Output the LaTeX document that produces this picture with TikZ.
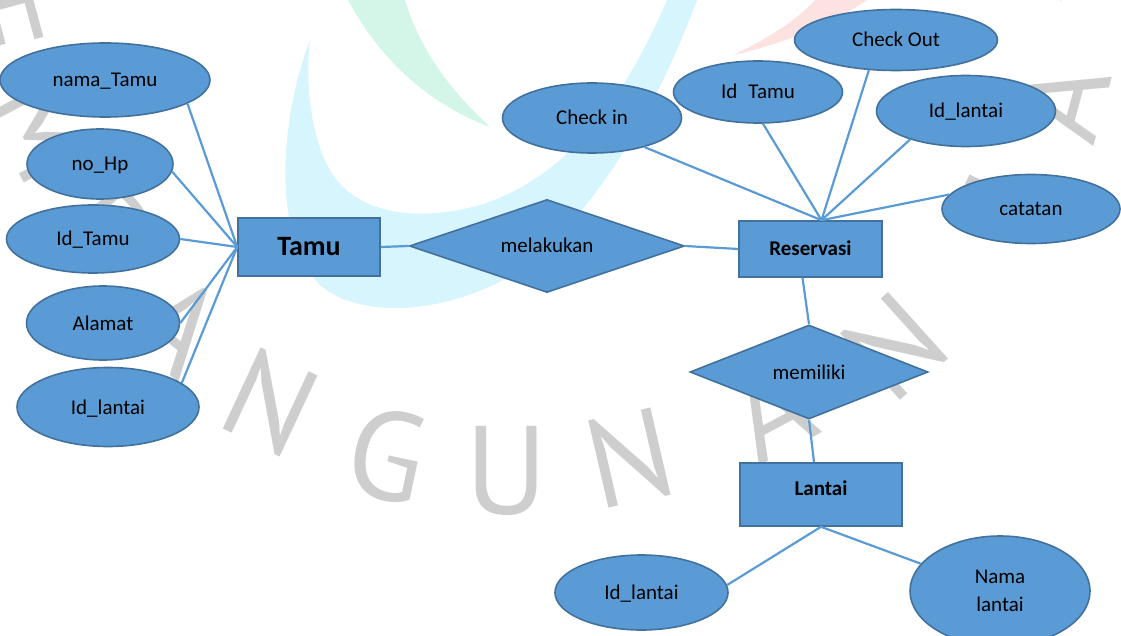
\documentclass[tikz,border=0pt]{standalone}
\usepackage{fontspec}
\setmainfont{Carlito}
\newfontfamily\wmfont{PT Sans}
\usetikzlibrary{shapes.geometric}
\definecolor{erfill}{HTML}{5B9BD5}
\definecolor{erdraw}{HTML}{41719C}
\definecolor{erline}{HTML}{5B9BD5}
\definecolor{wmcyan}{RGB}{214,245,252}
\definecolor{wmgreen}{RGB}{212,246,233}
\definecolor{wmpink}{RGB}{253,226,226}
\definecolor{wmgray}{RGB}{206,206,206}

\begin{document}
\begin{tikzpicture}[x=1pt,y=-1pt,
  every node/.style={inner sep=0pt},
  attrbase/.style={ellipse, draw=erdraw, fill=erfill, line width=1.6pt,
    font=\fontsize{21}{28}\selectfont},
  attr/.style={attrbase, text height=14pt, text depth=0pt},
  entity/.style={rectangle, draw=erdraw, fill=erfill, line width=1.6pt,
    font=\fontsize{21}{25}\selectfont\bfseries, text height=14pt, text depth=0pt},
  relation/.style={diamond, aspect=3, draw=erdraw, fill=erfill, line width=1.6pt,
    font=\fontsize{21}{25}\selectfont, text height=14pt, text depth=0pt},
  link/.style={draw=erline, line width=2.2pt},
  wm/.style={font=\wmfont\fontsize{126}{126}\selectfont, text=wmgray}
]
\useasboundingbox (0,0) rectangle (1121,636);

% background logo swooshes
\fill[wmcyan] (310,40) .. controls (283,110) and (268,230) .. (320,285)
  .. controls (360,320) and (450,315) .. (520,270)
  .. controls (600,210) and (660,100) .. (697,0) -- (667,0)
  .. controls (620,110) and (560,180) .. (480,205)
  .. controls (420,222) and (360,215) .. (333,175)
  .. controls (310,140) and (305,80) .. (310,40) -- cycle;
\fill[wmgreen] (348,0) .. controls (380,60) and (430,105) .. (490,127)
  .. controls (450,90) and (420,50) .. (405,0) -- cycle;
\fill[wmpink] (733,55) .. controls (765,40) and (795,22) .. (815,0) -- (867,0)
  .. controls (830,25) and (780,45) .. (733,55) -- cycle;

% background lettering on an arc
\foreach \ch/\x/\y/\r [count=\i] in {E/-5/25/-75, M/45/128/-62, B/105/232/-48,
    A/178/325/-38, N/271/402/-25, G/387/455/-12, U/507/471/0, N/630/458/13,
    A/770/410/28, N/894/346/42, J/1008/200/65, A/1060/100/75, Y/1110/-25/80}
  \node[wm, rotate=\r] (wm\i) at (\x,\y) {\ch};

% entity Tamu and its attributes
\node[entity, font=\fontsize{28}{32}\selectfont\bfseries, text height=18pt,
  minimum width=142pt, minimum height=58pt] (tamu) at (309,247) {Tamu};
\node[attr, minimum width=210pt, minimum height=74pt] (nama) at (105,80) {nama\_Tamu};
\node[attr, minimum width=146pt, minimum height=70pt] (hp) at (100,164) {no\_Hp};
\node[attr, minimum width=173pt, minimum height=68pt] (idtamu) at (93,239) {Id\_Tamu};
\node[attr, minimum width=153pt, minimum height=74pt] (alamat) at (103,323) {Alamat};
\node[attr, minimum width=182pt, minimum height=79pt] (idlantaiA) at (108,407) {Id\_lantai};

% relationship melakukan
\node[relation, minimum width=275pt, minimum height=93pt] (melakukan) at (547,246) {melakukan};

% entity Reservasi and its attributes
\node[entity, minimum width=143pt, minimum height=56pt] (reservasi) at (810.5,249) {Reservasi};
\node[attr, minimum width=179pt, minimum height=70pt] (checkin) at (592,118) {Check in};
\node[attr, minimum width=169pt, minimum height=62pt] (idtamuR) at (758,92) {Id\hspace{11pt}Tamu};
\node[attr, minimum width=203pt, minimum height=61pt] (checkout) at (896,40) {Check Out};
\node[attr, minimum width=179pt, minimum height=71pt] (idlantaiB) at (966,111) {Id\_lantai};
\node[attr, minimum width=178pt, minimum height=69pt] (catatan) at (1031,209) {catatan};

% relationship memiliki
\node[relation, minimum width=238pt, minimum height=94pt] (memiliki) at (809,372) {memiliki};

% entity Lantai and its attributes
\node[entity, minimum width=162pt, minimum height=63pt, text depth=12pt] (lantai) at (821,494.5) {Lantai};
\node[attr, minimum width=173pt, minimum height=75pt] (idlantaiC) at (641.5,592.5) {Id\_lantai};
\node[attrbase, align=center, minimum width=180pt, minimum height=110pt] (namalantai) at (1000,591) {Nama\\lantai};

% connectors
\coordinate (reshub) at ([xshift=11pt]reservasi.north);
\draw[link] (nama.-16) -- (tamu.west);
\draw[link] (hp.-6) -- (tamu.west);
\draw[link] (idtamu.east) -- (tamu.west);
\draw[link] (alamat.east) -- (tamu.west);
\draw[link] (idlantaiA.18) -- (tamu.west);
\draw[link] (tamu.east) -- (melakukan.west);
\draw[link] (melakukan.east) -- (reservasi.west);
\draw[link] (checkin.-29) -- (reshub);
\draw[link] (idtamuR.-81) -- (reshub);
\draw[link] (checkout.-132) -- (reshub);
\draw[link] (idlantaiB.-153) -- (reshub);
\draw[link] (catatan.170) -- (reshub);
\draw[link] ([xshift=-8pt]reservasi.south) -- (memiliki.north);
\draw[link] (memiliki.south) -- ([xshift=-7pt]lantai.north);
\draw[link] (lantai.south) -- (idlantaiC.5);
\draw[link] (lantai.south) -- (namalantai.161);
\end{tikzpicture}
\end{document}
